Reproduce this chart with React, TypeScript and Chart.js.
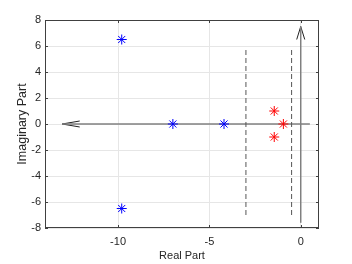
import React, { useEffect, useRef } from "react";
import { Chart, registerables } from "chart.js";
Chart.register(...registerables);

// Poles (real, imaginary)
const blueRe = [-9.8, -9.8, -7.0, -4.2];
const blueIm = [6.5, -6.5, 0, 0];
const redRe = [-1.45, -1.45, -0.95];
const redIm = [1, -1, 0];
// dashed vertical guide lines
const dashX = [-3, -0.5];
const dashY = [-7, 5.8];
// axis arrows
const hArrowX = [0.5, -13.06];
const vArrowY = [-7.6, 7.5];
const hHeadX = [-12.1, -13.06, -12.1];
const hHeadY = [0.23, 0, -0.23];
const vHeadX = [-0.22, 0, 0.22];
const vHeadY = [6.5, 7.5, 6.5];
// ticks
const xTicks = [-10, -5, 0];
const yTicks = [-8, -6, -4, -2, 0, 2, 4, 6, 8];
const xMin = -14, xMax = 1, yMin = -8, yMax = 8;

const FONT = "'Liberation Sans', Arial, Helvetica, sans-serif";
const AXIS = "#404040";

const innerTicks = {
  id: "innerTicks",
  afterDraw(chart: any) {
    const { ctx, chartArea: a, scales } = chart;
    ctx.save();
    ctx.strokeStyle = AXIS;
    ctx.lineWidth = 1;
    const L = 3;
    ctx.beginPath();
    xTicks.forEach((v) => {
      const px = Math.round(scales.x.getPixelForValue(v)) + 0.5;
      ctx.moveTo(px, a.bottom); ctx.lineTo(px, a.bottom - L);
      ctx.moveTo(px, a.top); ctx.lineTo(px, a.top + L);
    });
    yTicks.forEach((v) => {
      const py = Math.round(scales.y.getPixelForValue(v)) + 0.5;
      ctx.moveTo(a.left, py); ctx.lineTo(a.left + L, py);
      ctx.moveTo(a.right, py); ctx.lineTo(a.right - L, py);
    });
    ctx.stroke();
    ctx.strokeRect(a.left + 0.5, a.top + 0.5, a.right - a.left - 1, a.bottom - a.top - 1);
    ctx.restore();
  },
};

export default function App() {
  const ref = useRef<HTMLCanvasElement>(null);
  useEffect(() => {
    const line = (data: any[], color: string, width: number, dash: number[] = []) => ({
      type: "line" as const,
      data,
      borderColor: color,
      borderWidth: width,
      borderDash: dash,
      pointRadius: 0,
      showLine: true,
      fill: false,
      tension: 0,
      order: 2,
    });
    const chart = new Chart(ref.current!, {
      type: "scatter",
      data: {
        datasets: [
          line(dashY.map((y) => ({ x: dashX[0], y })), "#555555", 1, [5, 3]),
          line(dashY.map((y) => ({ x: dashX[1], y })), "#555555", 1, [5, 3]),
          line(hArrowX.map((x) => ({ x, y: 0 })), "#808080", 1.5),
          line(vArrowY.map((y) => ({ x: 0, y })), "#808080", 1.5),
          line(hHeadX.map((x, i) => ({ x, y: hHeadY[i] })), "#222222", 1),
          line(vHeadX.map((x, i) => ({ x, y: vHeadY[i] })), "#222222", 1),
          {
            data: blueRe.map((x, i) => ({ x, y: blueIm[i] })),
            pointStyle: "star",
            pointRadius: 5,
            borderColor: "#0000ff",
            backgroundColor: "#0000ff",
            borderWidth: 1,
            order: 1,
          },
          {
            data: redRe.map((x, i) => ({ x, y: redIm[i] })),
            pointStyle: "star",
            pointRadius: 5,
            borderColor: "#ff0000",
            backgroundColor: "#ff0000",
            borderWidth: 1,
            order: 1,
          },
        ] as any,
      },
      plugins: [innerTicks],
      options: {
        animation: false,
        responsive: false,
        devicePixelRatio: 1,
        layout: { padding: { top: 20, right: 33, left: 0, bottom: 0 } },
        plugins: { legend: { display: false }, tooltip: { enabled: false } },
        scales: {
          x: {
            type: "linear",
            min: xMin,
            max: xMax,
            afterBuildTicks: (s: any) => { s.ticks = xTicks.map((value) => ({ value })); },
            afterFit: (s: any) => { s.height = 36; },
            grid: { color: "#e6e6e6", drawTicks: false },
            border: { display: false },
            ticks: { color: "#262626", font: { family: FONT, size: 11 }, padding: 7, maxRotation: 0 },
            title: { display: true, text: "Real Part", color: "#262626", font: { family: FONT, size: 11 }, padding: { top: 0, bottom: 1 } },
          },
          y: {
            type: "linear",
            min: yMin,
            max: yMax,
            afterBuildTicks: (s: any) => { s.ticks = yTicks.map((value) => ({ value })); },
            afterFit: (s: any) => { s.width = 45; },
            grid: { color: "#e6e6e6", drawTicks: false },
            border: { display: false },
            ticks: { color: "#262626", font: { family: FONT, size: 11 }, padding: 4 },
            title: { display: true, text: "Imaginary Part", color: "#262626", font: { family: FONT, size: 12.5 }, padding: { top: 15, bottom: 0 } },
          },
        },
      },
    });
    return () => chart.destroy();
  }, []);
  return (
    <div style={{ position: "fixed", left: 0, top: 0, width: 352, height: 264, background: "#fff" }}>
      <canvas ref={ref} width={352} height={264} style={{ display: "block" }} />
    </div>
  );
}
